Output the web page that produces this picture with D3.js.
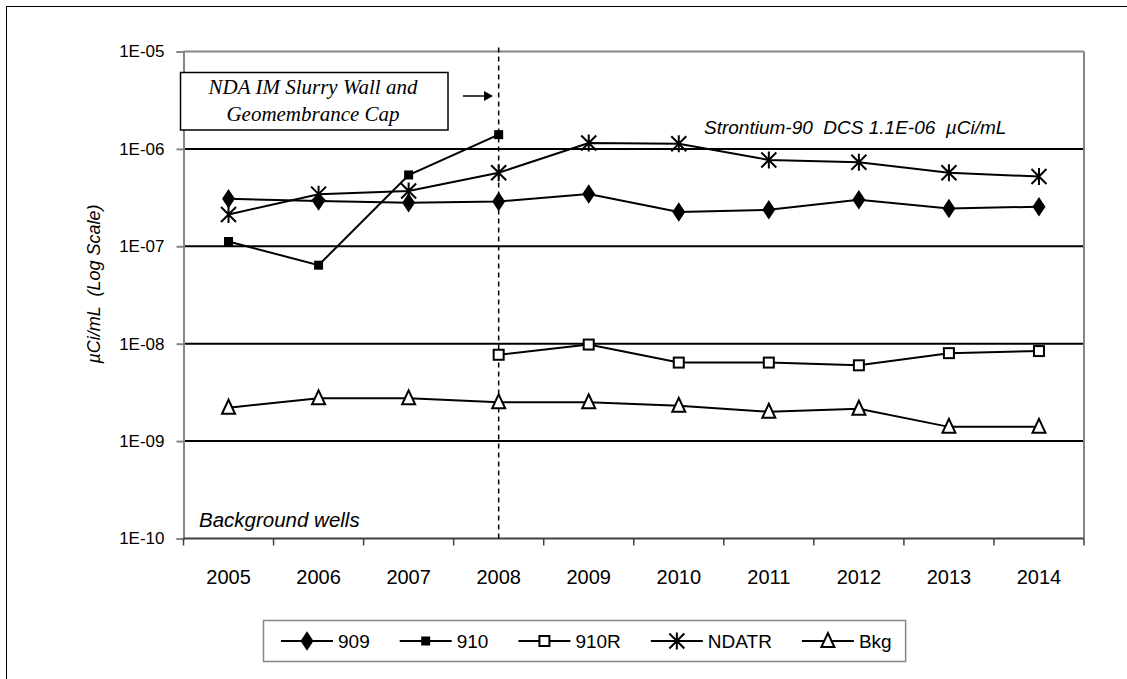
<!DOCTYPE html>
<html>
<head>
<meta charset="utf-8">
<script src="https://cdn.jsdelivr.net/npm/d3@7"></script>
<style>
  body { margin: 0; background: #fff; }
  svg { display: block; }
  text { font-family: "Liberation Sans", Arial, sans-serif; fill: #000; white-space: pre; }
</style>
</head>
<body>
<div id="chart"></div>
<script>
// data
var years = ["2005", "2006", "2007", "2008", "2009", "2010", "2011", "2012", "2013", "2014"];
var s909 = [3.07e-7, 2.92e-7, 2.8e-7, 2.88e-7, 3.45e-7, 2.25e-7, 2.37e-7, 3.0e-7, 2.45e-7, 2.55e-7];
var s910 = [1.12e-7, 6.4e-8, 5.4e-7, 1.4e-6, null, null, null, null, null, null];
var s910R = [null, null, null, 7.7e-9, 9.8e-9, 6.4e-9, 6.4e-9, 6.0e-9, 8.0e-9, 8.4e-9];
var sNDATR = [2.12e-7, 3.43e-7, 3.7e-7, 5.7e-7, 1.15e-6, 1.13e-6, 7.7e-7, 7.3e-7, 5.7e-7, 5.2e-7];
var sBkg = [2.2e-9, 2.75e-9, 2.75e-9, 2.5e-9, 2.5e-9, 2.3e-9, 2.0e-9, 2.15e-9, 1.4e-9, 1.4e-9];

var seriesNames = ["909", "910", "910R", "NDATR", "Bkg"];
var seriesMarkers = ["diamond", "square", "openSquare", "star", "triangle"];
var seriesValues = [s909, s910, s910R, sNDATR, sBkg];

var yTicks = [1e-5, 1e-6, 1e-7, 1e-8, 1e-9, 1e-10];
var yTickLabels = ["1E-05", "1E-06", "1E-07", "1E-08", "1E-09", "1E-10"];
var gridValues = [1e-6, 1e-7, 1e-8, 1e-9];

var eventYear = "2008";
var eventLines = ["NDA IM Slurry Wall and", "Geomembrance Cap"];
var dcsLabel = "Strontium-90  DCS 1.1E-06  \u00b5Ci/mL";
var cornerLabel = "Background wells";
var yTitle = "\u00b5Ci/mL  (Log Scale)";

var W = 1127, H = 679;
var margin = { top: 51.5, right: 43, bottom: 140.5, left: 183.5 };

var svg = d3.select("#chart").append("svg")
  .attr("width", W).attr("height", H);

// chart frame
svg.append("rect")
  .attr("x", 6.5).attr("y", 6.5)
  .attr("width", W + 10).attr("height", H + 10)
  .attr("fill", "none").attr("stroke", "#000").attr("stroke-width", 1);

var x = d3.scaleBand().domain(years)
  .range([margin.left, W - margin.right]).padding(0);
var y = d3.scaleLog().domain([1e-10, 1e-5])
  .range([H - margin.bottom, margin.top]);

function cx(i) { return x(years[i]) + x.bandwidth() / 2; }

// gridlines
svg.append("g").selectAll("line").data(gridValues).enter().append("line")
  .attr("x1", margin.left).attr("x2", W - margin.right)
  .attr("y1", function(d) { return y(d); }).attr("y2", function(d) { return y(d); })
  .attr("stroke", "#000").attr("stroke-width", 2);

// top and right plot edges
svg.append("line")
  .attr("x1", margin.left).attr("x2", W - margin.right)
  .attr("y1", y(1e-5)).attr("y2", y(1e-5))
  .attr("stroke", "#868686").attr("stroke-width", 2);
svg.append("line")
  .attr("x1", W - margin.right).attr("x2", W - margin.right)
  .attr("y1", y(1e-5)).attr("y2", y(1e-10))
  .attr("stroke", "#868686").attr("stroke-width", 2);

// y axis
var yAxis = svg.append("g")
  .attr("transform", "translate(" + margin.left + ",0)")
  .call(d3.axisLeft(y).tickValues(yTicks)
    .tickFormat(function(d, i) { return yTickLabels[i]; })
    .tickSize(7).tickPadding(12));
yAxis.select(".domain").attr("stroke", "#868686").attr("stroke-width", 2);
yAxis.selectAll(".tick line").attr("stroke", "#868686").attr("stroke-width", 2);
yAxis.selectAll(".tick text")
  .style("font-family", "'Liberation Sans', Arial, sans-serif")
  .style("font-size", "17px").attr("fill", "#000");

// x axis: ticks at category boundaries
var xg = svg.append("g");
xg.append("line")
  .attr("x1", margin.left).attr("x2", W - margin.right)
  .attr("y1", y(1e-10)).attr("y2", y(1e-10))
  .attr("stroke", "#404040").attr("stroke-width", 2);
xg.selectAll("line.tk").data(years.concat(["end"])).enter().append("line")
  .attr("class", "tk")
  .attr("x1", function(d) { return d === "end" ? W - margin.right : x(d); })
  .attr("x2", function(d) { return d === "end" ? W - margin.right : x(d); })
  .attr("y1", y(1e-10)).attr("y2", y(1e-10) + 7)
  .attr("stroke", "#404040").attr("stroke-width", 1.5);
xg.selectAll("text").data(years).enter().append("text")
  .attr("x", function(d) { return x(d) + x.bandwidth() / 2; })
  .attr("y", y(1e-10) + 45)
  .attr("text-anchor", "middle")
  .style("font-size", "20px")
  .text(function(d) { return d; });

// y axis title
svg.append("text")
  .attr("transform", "translate(100," + 284 + ") rotate(-90)")
  .attr("text-anchor", "middle")
  .style("font-size", "18px").style("font-style", "italic")
  .text(yTitle);

// event line
var ex = x(eventYear) + x.bandwidth() / 2;
svg.append("line")
  .attr("x1", ex).attr("x2", ex)
  .attr("y1", margin.top - 4).attr("y2", y(1e-10))
  .attr("stroke", "#000").attr("stroke-width", 1.5)
  .attr("stroke-dasharray", "5,4");

// markers
var symDiamond = d3.symbol().type(d3.symbolDiamond).size(110);
function drawMarker(g, type, px, py) {
  if (type === "diamond") {
    g.append("path").attr("d", symDiamond())
      .attr("transform", "translate(" + px + "," + py + ") scale(1.15,1)")
      .attr("fill", "#000");
  } else if (type === "square") {
    g.append("rect").attr("x", px - 4.5).attr("y", py - 4.5)
      .attr("width", 9).attr("height", 9).attr("fill", "#000");
  } else if (type === "openSquare") {
    g.append("rect").attr("x", px - 5).attr("y", py - 5)
      .attr("width", 10).attr("height", 10)
      .attr("fill", "#fff").attr("stroke", "#000").attr("stroke-width", 2);
  } else if (type === "star") {
    var r = 7.5;
    g.append("path")
      .attr("d", "M" + (px - r) + "," + (py - r) + "L" + (px + r) + "," + (py + r) +
        "M" + (px - r) + "," + (py + r) + "L" + (px + r) + "," + (py - r) +
        "M" + px + "," + (py - r - 1) + "L" + px + "," + (py + r + 1))
      .attr("stroke", "#000").attr("stroke-width", 2).attr("fill", "none");
  } else if (type === "triangle") {
    g.append("path")
      .attr("d", "M" + px + "," + (py - 8) + "L" + (px + 6.5) + "," + (py + 6) +
        "L" + (px - 6.5) + "," + (py + 6) + "Z")
      .attr("fill", "#fff").attr("stroke", "#000").attr("stroke-width", 2);
  }
}

var line = d3.line()
  .defined(function(d) { return d != null; })
  .x(function(d, i) { return cx(i); })
  .y(function(d) { return y(d); });

seriesValues.forEach(function(vals, k) {
  var g = svg.append("g");
  g.append("path").datum(vals).attr("d", line)
    .attr("fill", "none").attr("stroke", "#000").attr("stroke-width", 2);
  vals.forEach(function(v, i) {
    if (v != null) drawMarker(g, seriesMarkers[k], cx(i), y(v));
  });
});

// annotation box
svg.append("rect")
  .attr("x", 180.5).attr("y", 72.5).attr("width", 267.5).attr("height", 57.5)
  .attr("fill", "#fff").attr("stroke", "#000").attr("stroke-width", 1.5);
svg.selectAll("text.ev").data(eventLines).enter().append("text")
  .attr("class", "ev")
  .attr("x", 313).attr("y", function(d, i) { return 94 + i * 27; })
  .attr("text-anchor", "middle")
  .style("font-family", "'Liberation Serif', 'Times New Roman', serif")
  .style("font-style", "italic").style("font-size", "21px")
  .text(function(d) { return d; });
svg.append("line")
  .attr("x1", 463).attr("x2", 484).attr("y1", 96).attr("y2", 96)
  .attr("stroke", "#000").attr("stroke-width", 1.5);
svg.append("path")
  .attr("d", "M484,91L493,96L484,101Z").attr("fill", "#000");

// labels inside the plot
svg.append("text")
  .attr("x", 704).attr("y", 134)
  .style("font-size", "19px").style("font-style", "italic")
  .text(dcsLabel);
svg.append("text")
  .attr("x", 199).attr("y", 527)
  .style("font-size", "20.5px").style("font-style", "italic")
  .text(cornerLabel);

// legend
var lg = svg.append("g");
var lgBox = lg.append("rect")
  .attr("x", 263.5).attr("y", 620.5).attr("height", 41)
  .attr("fill", "#fff").attr("stroke", "#868686").attr("stroke-width", 1.5);
var lx = 281, ly = 641;
seriesNames.forEach(function(name, k) {
  lg.append("line").attr("x1", lx).attr("x2", lx + 52)
    .attr("y1", ly).attr("y2", ly)
    .attr("stroke", "#000").attr("stroke-width", 2);
  drawMarker(lg, seriesMarkers[k], lx + 26, ly);
  var t = lg.append("text").attr("x", lx + 57).attr("y", ly + 7)
    .style("font-size", "19px").text(name);
  lx = lx + 57 + t.node().getComputedTextLength() + 30;
});
lgBox.attr("width", lx - 30 + 14 - 263.5);
</script>
</body>
</html>
